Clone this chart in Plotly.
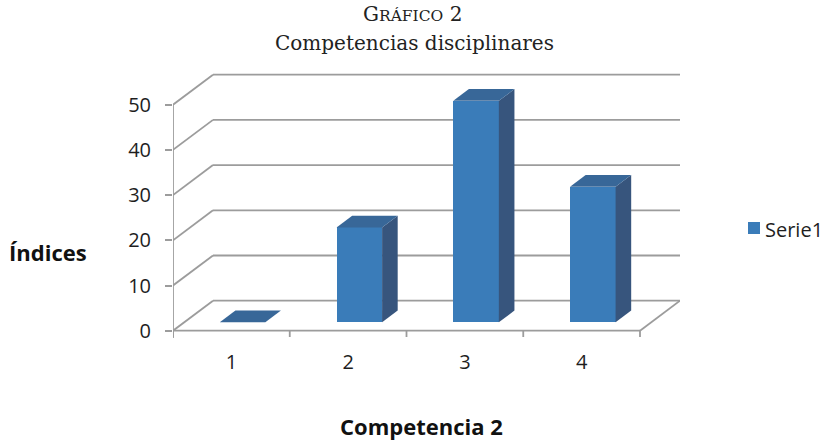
import plotly.graph_objects as go

# ---- data ----
categories = [1, 2, 3, 4]
category_labels = ["1", "2", "3", "4"]
serie1 = [0, 21, 49, 30]
y_ticks = [0, 10, 20, 30, 40, 50]
series_name = "Serie1"

# ---- oblique 3-D projection (x in category units, y in value units) ----
DEPTH_X = 0.3426      # horizontal shift of the back wall, in categories
DEPTH_Y = 6.64        # vertical shift of the back wall, in value units
BAR_W = 0.39          # bar width as a fraction of a category
BAR_FRONT = 0.28      # depth position of the bar front face (0 = front, 1 = back)
BAR_DEPTH = 0.39      # bar depth as a fraction of the full depth

X0, X1 = 0.5, 4.5
Y_TOP = max(y_ticks)

FRONT = "#3a7cb9"
SIDE = "#37557d"
TOP = "#386798"
GRID = "#9c9c9c"

# plot-area geometry in pixels
PLOT_L, PLOT_R, PLOT_T, PLOT_B = 173, 680, 70, 340
PLOT_W, PLOT_H = PLOT_R - PLOT_L, PLOT_B - PLOT_T


def px_to_paper(px, py):
    return (px - PLOT_L) / PLOT_W, (PLOT_B - py) / PLOT_H


fx = BAR_FRONT * DEPTH_X
fy = BAR_FRONT * DEPTH_Y
ddx = BAR_DEPTH * DEPTH_X
ddy = BAR_DEPTH * DEPTH_Y

fig = go.Figure()

# front faces of the bars
fig.add_trace(go.Bar(
    x=[c + fx for c in categories], y=serie1, base=[fy] * len(serie1),
    width=BAR_W, marker=dict(color=FRONT, line=dict(width=0)),
    name=series_name, showlegend=False,
))

# side and top faces, projected from each value
for c, v in zip(categories, serie1):
    xl = c + fx - BAR_W / 2
    xr = c + fx + BAR_W / 2
    top = v + fy
    if v > 0:
        fig.add_trace(go.Scatter(
            x=[xr, xr, xr + ddx, xr + ddx, xr],
            y=[fy, top, top + ddy, fy + ddy, fy],
            mode="lines", fill="toself", fillcolor=SIDE,
            line=dict(width=0, color=SIDE), showlegend=False, hoverinfo="skip",
        ))
    fig.add_trace(go.Scatter(
        x=[xl, xr, xr + ddx, xl + ddx, xl],
        y=[top, top, top + ddy, top + ddy, top],
        mode="lines", fill="toself", fillcolor=TOP,
        line=dict(width=0, color=TOP), showlegend=False, hoverinfo="skip",
    ))

# walls, floor and axes drawn beneath the bars
shapes = []
line_style = dict(color=GRID, width=1.8)
for v in y_ticks:
    # left wall diagonal
    shapes.append(dict(type="line", xref="x", yref="y", layer="below",
                       x0=X0, y0=v, x1=X0 + DEPTH_X, y1=v + DEPTH_Y, line=line_style))
    # back wall gridline
    shapes.append(dict(type="line", xref="x", yref="y", layer="below",
                       x0=X0 + DEPTH_X, y0=v + DEPTH_Y, x1=X1 + DEPTH_X, y1=v + DEPTH_Y,
                       line=line_style))
# floor front edge and right edge
shapes.append(dict(type="line", xref="x", yref="y", layer="below",
                   x0=X0, y0=0, x1=X1, y1=0, line=line_style))
shapes.append(dict(type="line", xref="x", yref="y", layer="below",
                   x0=X1, y0=0, x1=X1 + DEPTH_X, y1=DEPTH_Y, line=line_style))
# vertical value axis
shapes.append(dict(type="line", xref="x", yref="y", layer="below",
                   x0=X0, y0=-1.6, x1=X0, y1=Y_TOP, line=line_style))
# category separators below the floor
for k in range(len(categories) + 1):
    xc = X0 + k
    shapes.append(dict(type="line", xref="x", yref="y", layer="below",
                       x0=xc, y0=0, x1=xc, y1=-1.4, line=line_style))

# legend key: a small square in the series colour
kx0, ky0 = px_to_paper(748, 234)
kx1, ky1 = px_to_paper(760, 222)
shapes.append(dict(type="rect", xref="paper", yref="paper",
                   x0=kx0, y0=ky0, x1=kx1, y1=ky1,
                   fillcolor=FRONT, line=dict(width=0)))

tick_font = dict(family="Open Sans", size=20, color="#1e1e1e")
label_font = dict(family="Open Sans", size=22, color="#111111")
title_font = dict(family="DejaVu Serif", size=20, color="#222222")

ind_x, ind_y = px_to_paper(7, 252)
comp_x, comp_y = px_to_paper(421.5, 426)
leg_x, leg_y = px_to_paper(763, 229)
t1_x, t1_y = px_to_paper(412, 14)
t2_x, t2_y = px_to_paper(414, 43)

fig.update_layout(
    width=828, height=442,
    margin=dict(l=PLOT_L, r=828 - PLOT_R, t=PLOT_T, b=442 - PLOT_B),
    paper_bgcolor="white", plot_bgcolor="white",
    shapes=shapes,
    showlegend=False,
    annotations=[
        dict(text="G<span style='font-size:15.5px'>RÁFICO</span> 2",
             xref="paper", yref="paper", x=t1_x, y=t1_y,
             xanchor="center", yanchor="middle", showarrow=False, font=title_font),
        dict(text="Competencias disciplinares",
             xref="paper", yref="paper", x=t2_x, y=t2_y,
             xanchor="center", yanchor="middle", showarrow=False, font=title_font),
        dict(text="<b>Índices</b>", xref="paper", yref="paper", x=ind_x, y=ind_y,
             xanchor="left", yanchor="middle", showarrow=False, font=label_font),
        dict(text="<b>Competencia 2</b>", xref="paper", yref="paper",
             x=comp_x, y=comp_y, xanchor="center", yanchor="middle",
             showarrow=False, font=label_font),
        dict(text=series_name, xref="paper", yref="paper", x=leg_x, y=leg_y,
             xanchor="left", yanchor="middle", showarrow=False,
             font=dict(family="Open Sans", size=20, color="#1e1e1e")),
    ],
    bargap=0,
)

fig.update_xaxes(
    range=[X0, X0 + PLOT_W / 116.75],
    tickvals=categories, ticktext=category_labels,
    showgrid=False, zeroline=False, showline=False, ticks="",
    ticklabelstandoff=8, tickfont=tick_font, fixedrange=True,
)
fig.update_yaxes(
    range=[-(PLOT_B - 330.7) / 4.52, (330.7 - PLOT_T) / 4.52],
    tickvals=y_ticks, ticktext=[str(t) for t in y_ticks],
    showgrid=False, zeroline=False, showline=False,
    ticks="outside", ticklen=7, tickwidth=1.8, tickcolor=GRID,
    ticklabelstandoff=10, tickfont=tick_font, fixedrange=True,
)

fig.write_html("out.html")
